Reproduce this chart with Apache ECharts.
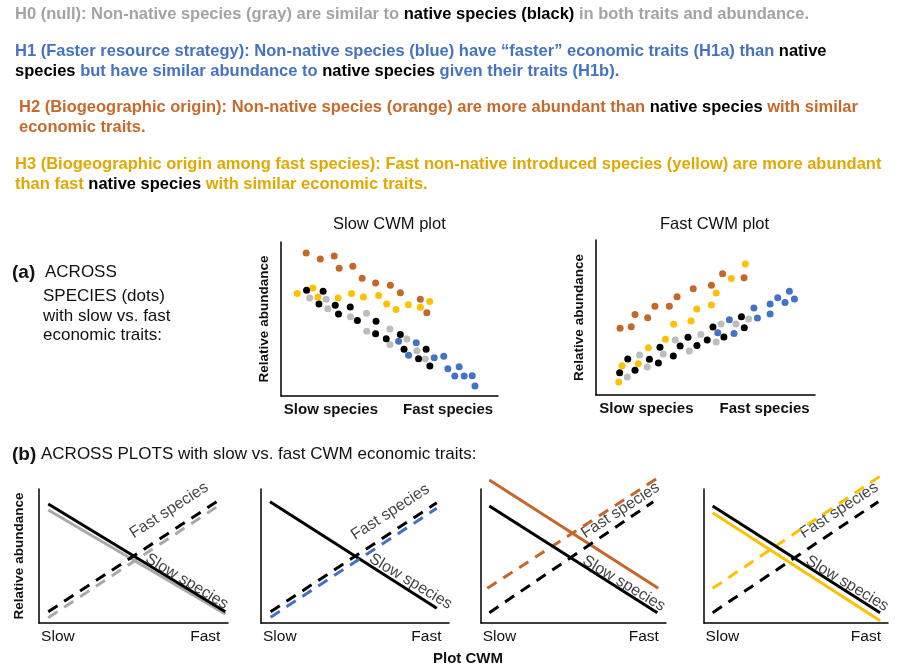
<!DOCTYPE html>
<html>
<head>
<meta charset="utf-8">
<script src="https://cdn.jsdelivr.net/npm/echarts@6/dist/echarts.min.js"></script>
<style>
  html, body { margin: 0; padding: 0; background: #fff; }
  #chart { width: 901px; height: 671px; }
</style>
</head>
<body>
<div id="chart"></div>
<script>
// ---- data (axis units 0-100) ----
// (a) Slow CWM plot
var slowOrange = [[11.6,92.9],[18.1,89.0],[24.5,90.9],[26.8,82.9],[33.1,84.2],[37.4,76.4],[43.6,73.4],[50.4,71.9],[55.0,67.1],[64.2,62.8],[67.2,54.1]];
var slowYellow = [[7.5,66.5],[14.7,70.1],[17.0,64.3],[26.3,63.6],[32.5,66.5],[38.0,64.3],[45.0,65.2],[48.7,59.7],[53.0,56.1],[58.7,59.3],[64.2,57.6],[68.5,61.3]];
var slowBlack = [[11.8,68.6],[19.4,68.0],[17.5,59.7],[25.0,58.9],[26.5,53.2],[31.9,57.8],[35.2,49.1],[43.8,48.5],[43.6,40.5],[48.5,37.2],[55.0,40.0],[56.7,30.3],[63.4,24.2],[66.9,30.3],[68.6,19.5]];
var slowGray = [[13.2,63.6],[20.8,62.8],[21.6,56.7],[32.0,51.5],[39.4,53.7],[39.5,42.0],[50.2,43.5],[50.2,33.5],[58.0,37.0],[62.6,29.4],[66.5,24.0]];
var slowBlue = [[54.2,35.5],[62.3,34.6],[58.8,26.4],[70.6,24.9],[75.0,25.8],[76.9,17.7],[82.1,19.0],[80.1,13.0],[84.4,13.0],[88.1,13.2],[89.4,6.5]];
// (a) Fast CWM plot
var fastOrange = [[11.0,43.0],[16.1,44.1],[17.8,52.0],[23.6,49.9],[26.9,57.2],[33.5,57.2],[37.0,63.4],[44.4,68.6],[52.7,70.8],[57.8,78.3],[67.6,75.7]];
var fastYellow = [[10.4,8.4],[11.9,18.9],[19.3,20.2],[23.9,30.5],[31.7,35.9],[35.5,45.6],[43.4,47.7],[46.0,55.5],[52.7,58.1],[54.9,65.8],[61.8,75.1],[68.2,84.5]];
var fastBlack = [[10.8,14.4],[14.5,23.2],[17.8,15.9],[24.4,23.0],[28.5,20.6],[29.2,30.8],[35.3,25.2],[38.4,31.6],[42.0,37.2],[46.1,32.0],[50.8,35.5],[53.4,43.9],[58.4,37.4],[66.4,50.5],[67.7,43.4]];
var fastGray = [[14.3,11.6],[19.9,25.8],[23.4,18.1],[30.7,26.5],[36.2,35.5],[42.6,28.4],[47.9,39.1],[54.9,34.2],[57.1,45.8],[63.9,45.8],[69.7,49.0]];
var fastBlue = [[55.6,40.2],[60.9,48.6],[63.0,39.6],[72.1,56.1],[73.7,49.7],[79.5,58.7],[79.5,52.3],[83.0,62.8],[86.3,59.6],[88.3,66.9],[90.6,61.9]];
// (b) across plots: [slow-species line, fast-species line] per hypothesis
var h0Native = [[[4.9,88.8],[98.6,8.4]], [[4.9,8.4],[94.0,90.5]]];
var h0Other  = [[[4.9,84.3],[98.6,6.7]], [[4.9,4.0],[94.0,86.6]]];
var h1Native = [[[4.8,90.5],[93.5,11.0]], [[5.1,8.4],[93.5,89.8]]];
var h1Other  = [null, [[5.1,4.3],[93.5,85.6]]];
var h2Native = [[[4.5,87.3],[95.3,7.7]], [[4.5,7.7],[93.1,90.5]]];
var h2Other  = [[[4.5,106.7],[95.8,25.9]], [[3.4,25.9],[95.3,108]]];
var h3Native = [[[4.7,87.3],[95.7,7.7]], [[4.7,7.7],[94.7,90.5]]];
var h3Other  = [[[4.7,82.3],[95.7,1.7]], [[4.7,25.9],[96.6,110.4]]];
var lineLabelPos = [
  {fast: [68.8,84.0], slow: [78.2,30.9]},
  {fast: [68.8,82.7], slow: [79.6,30.9]},
  {fast: [75.4,84.0], slow: [77.2,29.4]},
  {fast: [73.4,84.0], slow: [77.8,29.4]}
];
var speciesTicks = ['Slow species', 'Fast species'];
var cwmTicks = ['Slow', 'Fast'];

var FONT = '"Liberation Sans", Arial, sans-serif';
var C = { orange: '#c5662a', yellow: '#ffc000', black: '#000', gray: '#bdbdbd', blue: '#4472c4',
          tGray: '#a3a3a3', tOrange: '#c7692c', tYellow: '#e2a800', grayLine: '#a9a9a9' };

var myChart = echarts.init(document.getElementById('chart'));

var grids = [
  {left: 281, top: 242, width: 217, height: 154},
  {left: 596, top: 240, width: 219, height: 155},
  {left: 39, top: 489, width: 189, height: 134},
  {left: 261, top: 489, width: 188, height: 134},
  {left: 481, top: 489, width: 185, height: 134},
  {left: 704, top: 489, width: 184, height: 134}
];

var xAxes = [], yAxes = [];
grids.forEach(function (g, i) {
  var top = i < 2;
  xAxes.push({
    gridIndex: i, type: 'value', min: 0, max: 100,
    axisLine: {show: true, onZero: false, lineStyle: {color: '#000', width: 1.5}},
    axisTick: {show: false}, splitLine: {show: false},
    axisLabel: {
      show: true, margin: 6, color: '#111', fontFamily: FONT,
      fontSize: top ? 15 : 15.5, fontWeight: top ? 'bold' : 'normal',
      customValues: top ? [23, 77] : [10, 88],
      formatter: function (v) {
        var names = top ? speciesTicks : cwmTicks;
        return v < 50 ? names[0] : names[1];
      }
    }
  });
  yAxes.push({
    gridIndex: i, type: 'value', min: 0, max: 100,
    axisLine: {show: true, onZero: false, lineStyle: {color: '#000', width: 1.5}},
    axisTick: {show: false}, splitLine: {show: false}, axisLabel: {show: false},
    name: (i === 0 || i === 1 || i === 2) ? 'Relative abundance' : '',
    nameLocation: 'middle', nameGap: i === 2 ? 13 : 10,
    nameTextStyle: {color: '#111', fontFamily: FONT, fontSize: 13.5, fontWeight: 'bold'}
  });
});

var series = [];
function dots(idx, data, color) {
  series.push({type: 'scatter', xAxisIndex: idx, yAxisIndex: idx, data: data,
    symbolSize: 7, itemStyle: {color: color, opacity: 1}, silent: true});
}
dots(0, slowOrange, C.orange); dots(0, slowYellow, C.yellow); dots(0, slowGray, C.gray);
dots(0, slowBlack, C.black); dots(0, slowBlue, C.blue);
dots(1, fastOrange, C.orange); dots(1, fastYellow, C.yellow); dots(1, fastGray, C.gray);
dots(1, fastBlack, C.black); dots(1, fastBlue, C.blue);

function lines(idx, pair, color) {
  if (pair[0]) series.push({type: 'line', xAxisIndex: idx, yAxisIndex: idx, data: pair[0],
    symbol: 'none', clip: false, lineStyle: {color: color, width: 3}, silent: true});
  if (pair[1]) series.push({type: 'line', xAxisIndex: idx, yAxisIndex: idx, data: pair[1],
    symbol: 'none', clip: false, lineStyle: {color: color, width: 3, type: [11, 8]}, silent: true});
}
lines(2, h0Other, C.grayLine); lines(2, h0Native, C.black);
lines(3, h1Native, C.black); lines(3, h1Other, C.blue);
lines(4, h2Other, C.orange); lines(4, h2Native, C.black);
lines(5, h3Other, C.yellow); lines(5, h3Native, C.black);

lineLabelPos.forEach(function (p, k) {
  var idx = k + 2;
  [['Fast species', p.fast, 33], ['Slow species', p.slow, -31]].forEach(function (t) {
    series.push({type: 'scatter', xAxisIndex: idx, yAxisIndex: idx, data: [t[1]], symbolSize: 0,
      silent: true,
      label: {show: true, position: 'inside', formatter: t[0], rotate: t[2],
        color: '#111', fontFamily: FONT, fontSize: 16}});
  });
});

function r(color) { return {fontFamily: FONT, fontSize: 16.5, fontWeight: 'bold', fill: color, color: color}; }
var rich = {g: r(C.tGray), k: r('#000'), b: r(C.blue), o: r(C.tOrange), y: r(C.tYellow)};
function plain(x, y, text, size, bold) {
  return {type: 'text', left: x, top: y, style: {text: text, fontFamily: FONT, fontSize: size,
    fontWeight: bold ? 'bold' : 'normal', fill: '#111'}};
}

var graphic = [
  {type: 'text', left: 15, top: 6, style: {rich: rich,
    text: '{g|H0 (null): Non-native species (gray) are similar to }{k|native species (black)}{g| in both traits and abundance.}'}},
  {type: 'text', left: 15, top: 43, style: {rich: rich,
    text: '{b|H1 (Faster resource strategy): Non-native species (blue) have \u201cfaster\u201d economic traits (H1a) than }{k|native}'}},
  {type: 'text', left: 15, top: 63, style: {rich: rich,
    text: '{k|species}{b| but have similar abundance to }{k|native species}{b| given their traits (H1b).}'}},
  {type: 'text', left: 19, top: 99, style: {rich: rich,
    text: '{o|H2 (Biogeographic origin): Non-native species (orange) are more abundant than }{k|native species}{o| with similar}'}},
  {type: 'text', left: 19, top: 119, style: {rich: rich, text: '{o|economic traits.}'}},
  {type: 'text', left: 15, top: 156, style: {rich: rich,
    text: '{y|H3 (Biogeographic origin among fast species): Fast non-native introduced species (yellow) are more abundant}'}},
  {type: 'text', left: 15, top: 176, style: {rich: rich,
    text: '{y|than fast }{k|native species}{y| with similar economic traits.}'}},

  plain(12, 263, '(a)', 19, true),
  plain(45, 264, 'ACROSS', 17),
  plain(43, 288, 'SPECIES (dots)', 17),
  plain(43, 308, 'with slow vs. fast', 17),
  plain(43, 327, 'economic traits:', 17),

  plain(333, 216, 'Slow CWM plot', 16.5),
  plain(660, 216, 'Fast CWM plot', 16.5),

  plain(12, 445, '(b)', 19, true),
  plain(41, 446, 'ACROSS PLOTS with slow vs. fast CWM economic traits:', 17),

  plain(433, 651, 'Plot CWM', 15, true)
];

myChart.setOption({
  animation: false,
  backgroundColor: '#fff',
  grid: grids,
  xAxis: xAxes,
  yAxis: yAxes,
  series: series,
  graphic: graphic
});
</script>
</body>
</html>
